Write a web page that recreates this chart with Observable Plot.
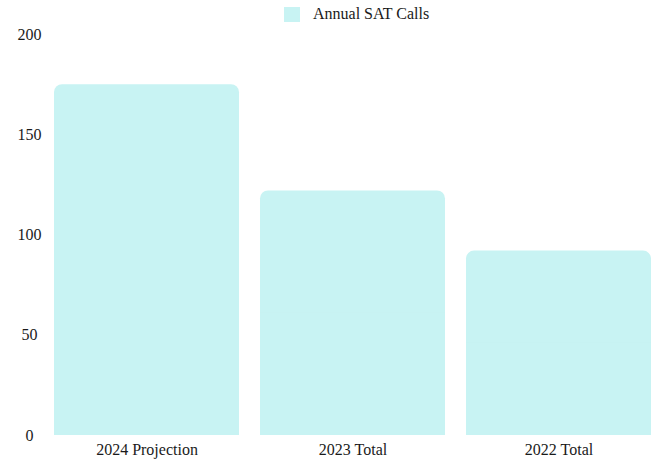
<!DOCTYPE html>
<html>
<head>
<meta charset="utf-8">
<script src="https://cdn.jsdelivr.net/npm/d3@7"></script>
<script src="https://cdn.jsdelivr.net/npm/@observablehq/plot@0.6"></script>
<style>
  html, body { margin: 0; padding: 0; background: #fff; }
  body { width: 653px; height: 465px; overflow: hidden; font-family: "Times New Roman", Tinos, "Liberation Serif", "Noto Serif", "DejaVu Serif", serif; }
  #legend { position: relative; height: 22px; }
  #legend .sw { position: absolute; left: 284px; top: 7px; width: 16px; height: 15px; background: #c8f3f3; }
  #legend .lb { position: absolute; left: 313px; top: 5px; font-size: 16px; line-height: 18px; color: #1a1a1a; white-space: nowrap; }
  svg text { fill: #1a1a1a; }
</style>
</head>
<body>
<div id="legend"><span class="sw"></span><span class="lb">Annual SAT Calls</span></div>
<div id="chart"></div>
<script>
const categories = ["2024 Projection", "2023 Total", "2022 Total"];
const values = [175, 122, 92];
const seriesName = "Annual SAT Calls";
const yTicks = [0, 50, 100, 150, 200];

const data = categories.map((c, i) => ({category: c, value: values[i], series: seriesName}));
const fillColor = "#c8f3f3";

const chart = Plot.plot({
  width: 653,
  height: 443,
  marginTop: 12,
  marginBottom: 30,
  marginLeft: 53,
  marginRight: 1,
  style: {fontFamily: "'Times New Roman', Tinos, 'Liberation Serif', 'Noto Serif', 'DejaVu Serif', serif", fontSize: "16px", background: "#fff"},
  x: {domain: categories, paddingInner: 0.1, paddingOuter: 0, label: null},
  y: {domain: [0, 200], label: null},
  marks: [
    Plot.barY(data, {x: "category", y: "value", fill: fillColor, rx: 8}),
    Plot.barY(data, {x: "category", y1: 0, y2: d => d.value / 2, fill: fillColor}),
    Plot.axisX({tickSize: 0, tickPadding: 8, fontSize: 16}),
    Plot.axisY({ticks: yTicks, tickSize: 0, tickPadding: 24, textAnchor: "middle", fontSize: 16})
  ]
});
document.getElementById("chart").appendChild(chart);
</script>
</body>
</html>
